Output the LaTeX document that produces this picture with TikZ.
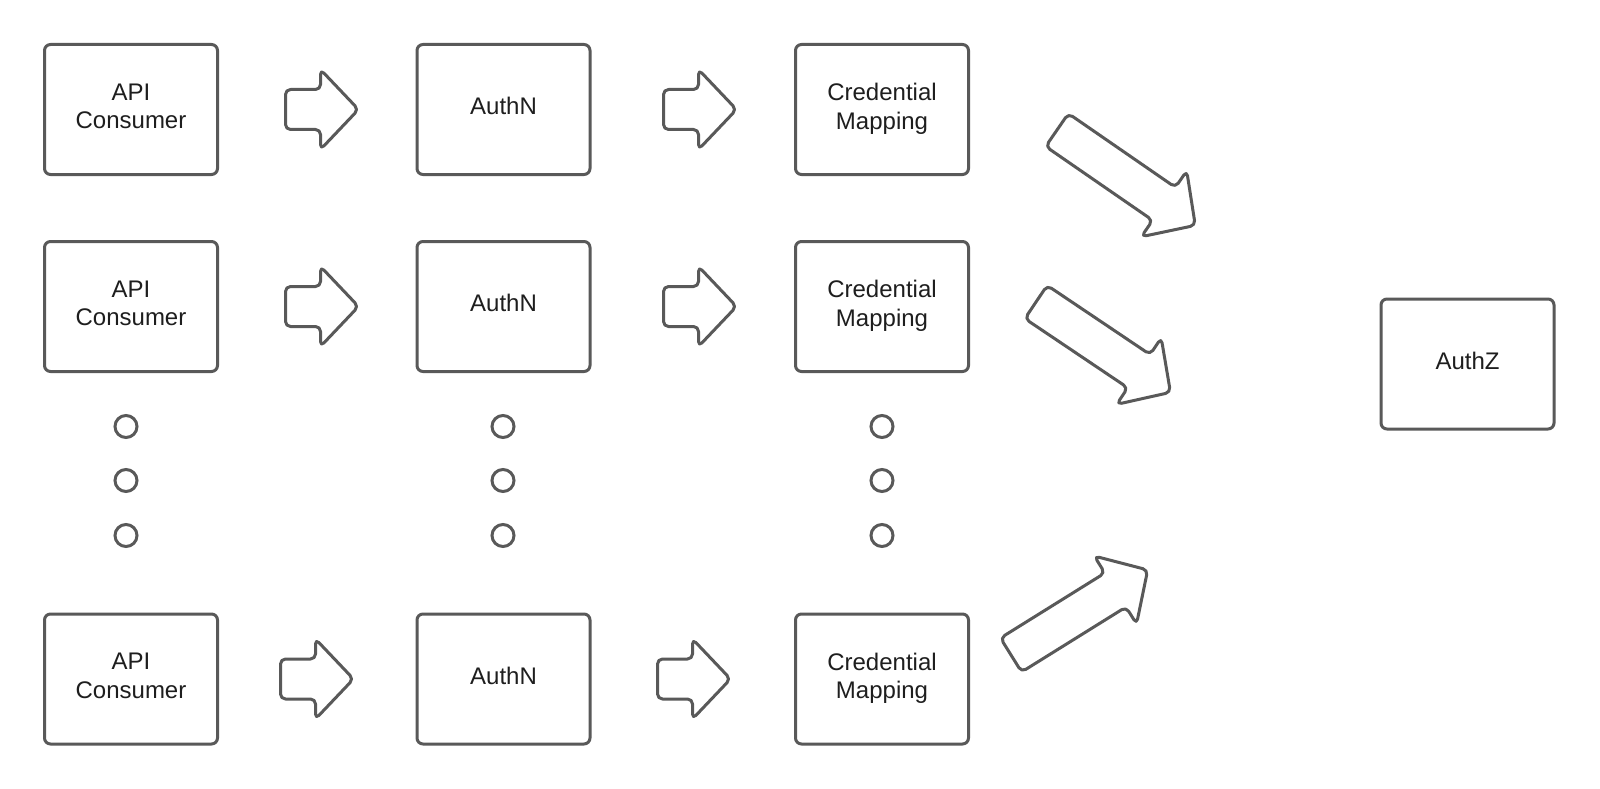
\documentclass[tikz,border=0pt]{standalone}
\usepackage{fontspec}
\setmainfont{Liberation Sans}
\definecolor{linegray}{HTML}{595959}
\definecolor{textblack}{HTML}{1E1E1E}
\tikzset{
  box/.style={draw=linegray, line width=3pt, rounded corners=6pt, minimum width=173pt, minimum height=130pt,
    align=center, font=\fontsize{24}{28.5}\selectfont, text=textblack, inner sep=0pt, text depth=6.5pt},
  dotc/.style={draw=linegray, line width=3pt, circle, minimum size=22pt, inner sep=0pt},
  blk/.style={draw=linegray, line width=3pt, rounded corners=5pt, line join=round},
}
\newcommand\blkarrow[4]{%
  \begin{scope}[shift={(#1,#2)},rotate=#3]
    \draw[blk] (0,-20) -- ({#4-38},-20) -- ({#4-38},-40) -- (#4,0) -- ({#4-38},40) -- ({#4-38},20) -- (0,20) -- cycle;
  \end{scope}}
\begin{document}
\begin{tikzpicture}[x=1pt,y=-1pt]
\fill[white] (0,0) rectangle (1600,789);
\useasboundingbox (0,0) rectangle (1600,789);

% column 1
\node[box] (c1) at (131,109.5) {API\\Consumer};
\node[box] (c2) at (131,306.5) {API\\Consumer};
\node[box] (c3) at (131,679) {API\\Consumer};
% column 2
\node[box] (n1) at (503.5,109.5) {AuthN};
\node[box] (n2) at (503.5,306.5) {AuthN};
\node[box] (n3) at (503.5,679) {AuthN};
% column 3
\node[box] (m1) at (882,109.5) {Credential\\Mapping};
\node[box] (m2) at (882,306.5) {Credential\\Mapping};
\node[box] (m3) at (882,679) {Credential\\Mapping};
% AuthZ
\node[box] (z) at (1467.5,364) {AuthZ};

% dots
\foreach \cx/\nm in {126/a,503/b,882/c}{
  \node[dotc] (\nm1) at (\cx,426.5) {};
  \node[dotc] (\nm2) at (\cx,480.5) {};
  \node[dotc] (\nm3) at (\cx,535.5) {};
}

% small block arrows
\blkarrow{285.5}{109.5}{0}{73}
\blkarrow{663.5}{109.5}{0}{73}
\blkarrow{285.5}{306.5}{0}{73}
\blkarrow{663.5}{306.5}{0}{73}
\blkarrow{280.5}{679}{0}{73}
\blkarrow{657.5}{679}{0}{73}

% diagonal block arrows
\blkarrow{1057}{130}{-34.6}{168}
\blkarrow{1036}{302}{-33.9}{162}
\blkarrow{1011}{655}{31.9}{161}
\end{tikzpicture}
\end{document}
